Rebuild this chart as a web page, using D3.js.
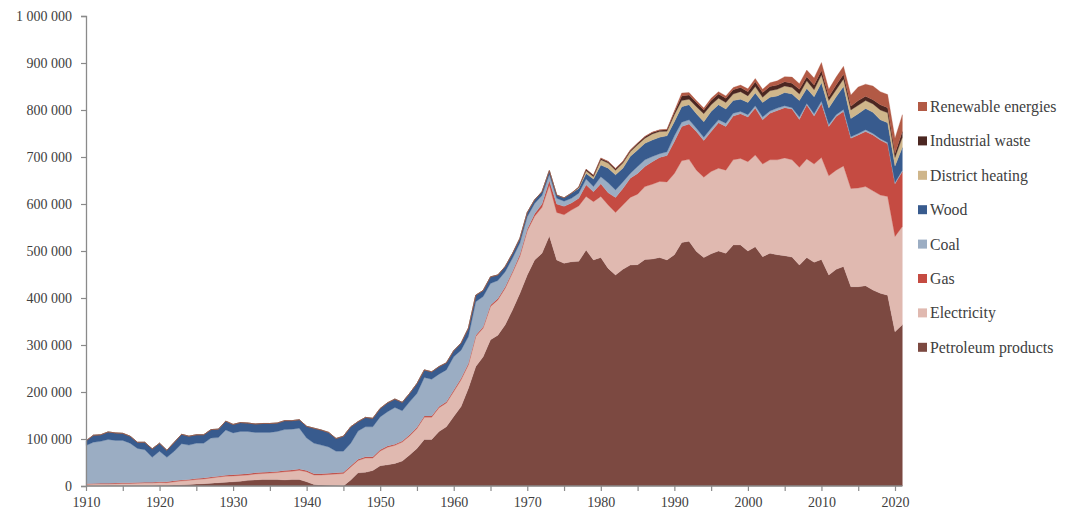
<!DOCTYPE html>
<html>
<head>
<meta charset="utf-8">
<script src="https://cdn.jsdelivr.net/npm/d3@7"></script>
<style>
  body { margin: 0; background: #fff; }
  svg text { font-family: "Liberation Serif", "DejaVu Serif", serif; fill: #404040; }
</style>
</head>
<body>
<svg id="chart" width="1072" height="512"></svg>
<script>
// years on the x axis
var years = d3.range(1910, 2022);

// values in thousands, one per year 1910 .. 2021
var petroleum = [
  0.5, 0.5, 0.5, 1, 1, 1, 1, 1, 1, 1,
  1.5, 1.5, 2, 2.5, 3, 4, 5, 6, 7, 8,
  9, 10, 12, 13, 14, 14, 14, 13, 14, 14,
  9, 3, 2, 1.5, 1, 0, 13, 28, 29, 33,
  43, 45, 48, 53, 66, 80, 99, 99, 116, 126,
  148, 169, 208, 254, 275, 311, 321, 343, 375, 410,
  449, 481, 495, 532, 481, 474, 477, 478, 502, 481,
  486, 463, 449, 461, 470, 471, 482, 483, 486, 481,
  492, 518, 521, 499, 486, 494, 500, 495, 513, 513,
  500, 509, 488, 495, 492, 490, 487, 470, 486, 476,
  482, 449, 461, 467, 424, 424, 426, 417, 410, 406,
  328, 343
];
var electricity = [
  3, 3.5, 4, 3.5, 4, 4.5, 4.5, 5, 5.5, 5.5,
  6, 5.5, 7, 8.5, 9, 10, 10, 11, 12, 13,
  12.5, 12.5, 11.5, 12.5, 12.5, 13.5, 14.5, 17.5, 17.5, 19.5,
  21.5, 20.5, 21.5, 23, 24.5, 26.5, 27.5, 26.5, 30.5, 26.5,
  31.5, 37.5, 38.5, 40.5, 40.5, 42.5, 47.5, 47.5, 50.5, 50.5,
  53, 57, 50, 64, 61, 71, 75, 78, 79, 79,
  94, 93, 98, 108, 101, 103, 110, 118, 114, 124,
  130, 135, 133, 137, 144, 150, 155, 159, 162, 166,
  173, 174, 174, 173, 171, 175, 176, 177, 181, 184,
  190, 195, 197, 199, 202, 208, 207, 208, 210, 209,
  217, 211, 211, 214, 209, 210, 211, 211, 209, 210,
  203, 209
];
var gas = [
  1.5, 1.5, 1.5, 1.5, 1.5, 1.5, 1.5, 1.5, 1.5, 1.5,
  1.5, 2, 2, 2, 2, 2, 2, 2, 2, 2,
  2.5, 2.5, 2.5, 2.5, 2.5, 2.5, 2.5, 2.5, 2.5, 2.5,
  2.5, 2.5, 2.5, 2.5, 2.5, 2.5, 2.5, 2.5, 2.5, 2.5,
  2.5, 2.5, 2.5, 2.5, 2.5, 2.5, 2.5, 2.5, 2.5, 2.5,
  3, 3, 3, 3, 3, 3, 3, 3, 3, 4,
  4, 5, 7, 10, 18, 18, 15, 16, 25, 21,
  27, 26, 32, 35, 41, 44, 43, 48, 51, 56,
  68, 73, 75, 82, 78, 85, 97, 93, 93, 95,
  95, 100, 94, 99, 105, 107, 108, 102, 115, 102,
  115, 105, 114, 116, 107, 113, 117, 119, 117, 112,
  112, 117
];
var coal = [
  81, 87.5, 89, 93, 90.5, 90, 84, 72.5, 69, 53,
  65, 52, 63, 77, 73, 75, 74, 83, 82, 96,
  89, 91, 90, 86, 85, 84, 85, 87, 87, 87,
  69, 65, 61, 56, 46, 45, 48, 60, 64, 64,
  70, 73, 78, 64, 70, 72, 82, 78, 69, 68,
  71, 60, 57, 71, 64, 46, 38, 32, 28, 24,
  26, 22, 18, 13, 12, 11, 10, 11, 12, 11,
  15, 21, 16, 14, 10, 15, 14, 11, 8, 8,
  12, 9, 9, 7, 7, 7, 6, 7, 6, 5,
  5, 5, 6, 5, 5, 4, 3, 5, 3, 5,
  5, 4, 4, 4, 3, 3, 4, 3, 3, 3,
  3, 3
];
var wood = [
  10, 15, 14, 16, 16, 15, 15, 13, 16, 18,
  17, 15, 19, 20, 19, 18, 18, 18, 18, 19,
  18, 19, 18, 18, 19, 19, 18, 19, 18, 18,
  25, 32, 32, 31, 27, 32, 35, 20, 20, 18,
  18, 19, 18, 18, 18, 21, 16, 16, 16, 15,
  13, 15, 18, 14, 13, 14, 12, 11, 10, 10,
  9, 8, 8, 8, 7, 7, 11, 10, 12, 16,
  25, 31, 32, 29, 36, 35, 35, 35, 35, 34,
  30, 33, 32, 31, 33, 36, 32, 30, 27, 26,
  26, 27, 31, 29, 26, 28, 29, 35, 32, 36,
  39, 35, 38, 49, 39, 42, 45, 45, 40, 42,
  35, 48
];
var districtHeating = [
  0, 0, 0, 0, 0, 0, 0, 0, 0, 0,
  0, 0, 0, 0, 0, 0, 0, 0, 0, 0,
  0, 0, 0, 0, 0, 0, 0, 0, 0, 0,
  0, 0, 0, 0, 0, 0, 0, 0, 0, 0,
  0, 0, 0, 0, 0, 0, 0, 0, 0, 0,
  0, 0, 0, 0, 0, 0, 0, 0, 0, 0,
  0, 0, 0, 0, 0, 0, 0, 2, 6, 5,
  11, 11, 10, 11, 10, 11, 11, 13, 12, 10,
  15, 13, 12, 15, 17, 14, 14, 14, 14, 16,
  14, 14, 11, 14, 14, 14, 14, 14, 16, 15,
  17, 16, 15, 16, 18, 18, 17, 18, 21, 21,
  18, 22
];
var industrialWaste = [
  0, 0, 0, 0, 0, 0, 0, 0, 0, 0,
  0, 0, 0, 0, 0, 0, 0, 0, 0, 0,
  0, 0, 0, 0, 0, 0, 0, 0, 0, 0,
  0, 0, 0, 0, 0, 0, 0, 0, 0, 0,
  0, 0, 0, 0, 0, 0, 0, 0, 0, 0,
  0, 0, 0, 0, 0, 0, 0, 0, 0, 0,
  0, 0, 0, 0, 0, 0, 0, 1, 3, 3,
  3, 3, 3, 3, 3, 3, 3, 3, 3, 3,
  5, 10, 9, 9, 8, 9, 9, 9, 9, 9,
  9, 10, 10, 9, 9, 9, 9, 10, 9, 10,
  9, 8, 10, 10, 8, 10, 9, 9, 11, 11,
  9, 12
];
var renewable = [
  0, 0, 0, 0, 0, 0, 0, 0, 0, 0,
  0, 0, 0, 0, 0, 0, 0, 0, 0, 0,
  0, 0, 0, 0, 0, 0, 0, 0, 0, 0,
  0, 0, 0, 0, 0, 0, 0, 0, 0, 0,
  0, 0, 0, 0, 0, 0, 0, 0, 0, 0,
  0, 0, 0, 0, 0, 0, 0, 0, 0, 0,
  0, 0, 0, 0, 0, 0, 0, 0, 0, 0,
  1, 1, 1, 1, 1, 1, 1, 1, 1, 1,
  3, 6, 5, 4, 4, 5, 5, 5, 5, 5,
  6, 7, 7, 8, 9, 11, 13, 12, 14, 15,
  17, 16, 17, 17, 24, 29, 26, 29, 28, 28,
  32, 36
];

// series, bottom to top
var seriesNames = ['Petroleum products', 'Electricity', 'Gas', 'Coal', 'Wood',
  'District heating', 'Industrial waste', 'Renewable energies'];
var seriesValues = [petroleum, electricity, gas, coal, wood, districtHeating, industrialWaste, renewable];
var seriesColors = ['#7c4941', '#e0b9b0', '#c54b42', '#9badc3', '#385b8e',
  '#cfb68b', '#4b2721', '#b25a45'];

var yTicks = [0, 100000, 200000, 300000, 400000, 500000, 600000, 700000, 800000, 900000, 1000000];

var svg = d3.select('#chart');

var xScale = d3.scaleLinear().domain([1910, 2020]).range([86, 895]);
var yScale = d3.scaleLinear().domain([0, 1000000]).range([486, 16]);

// build rows for the stack
var rows = years.map(function(yr, i) {
  var row = { year: yr };
  seriesNames.forEach(function(name, j) {
    row[name] = seriesValues[j][i] * 1000;
  });
  return row;
});

var stack = d3.stack().keys(seriesNames);
var layers = stack(rows);

var area = d3.area()
  .x(function(d) { return xScale(d.data.year); })
  .y0(function(d) { return yScale(d[0]); })
  .y1(function(d) { return yScale(d[1]); });

svg.append('g')
  .selectAll('path')
  .data(layers)
  .enter()
  .append('path')
  .attr('d', area)
  .attr('fill', function(d, i) { return seriesColors[i]; })
  .attr('stroke', function(d, i) { return seriesColors[i]; })
  .attr('stroke-width', 0.3);

// y axis
var fmt = function(v) { return d3.format(',')(v).replace(/,/g, ' '); };
var yAxis = d3.axisLeft(yScale).tickValues(yTicks).tickSize(5).tickPadding(9).tickFormat(fmt);
var yG = svg.append('g')
  .attr('transform', 'translate(86,0)')
  .call(yAxis);

// x axis, ticks every 5 years, labels every 10
var xTicks = d3.range(1910, 2021, 5);
var xAxis = d3.axisBottom(xScale).tickValues(xTicks).tickSize(5).tickPadding(6)
  .tickFormat(function(d) { return d % 10 === 0 ? d : ''; });
var xG = svg.append('g')
  .attr('transform', 'translate(0,486)')
  .call(xAxis);

xG.select('.domain').attr('d', 'M86,0H' + xScale(2021));

[yG, xG].forEach(function(g) {
  g.selectAll('.domain').attr('stroke', '#8a8a8a').attr('stroke-width', 1.3);
  g.selectAll('.tick line').attr('stroke', '#8a8a8a').attr('stroke-width', 1.2);
  g.selectAll('.tick text')
    .style('font-family', '"Liberation Serif", serif')
    .style('font-size', '14px')
    .attr('fill', '#404040');
});

// legend, top entry is the top layer
var legendItems = seriesNames.slice().reverse();
var legendColors = seriesColors.slice().reverse();

var legend = svg.append('g').attr('transform', 'translate(918,0)');

legend.selectAll('rect')
  .data(legendItems)
  .enter()
  .append('rect')
  .attr('x', 0)
  .attr('y', function(d, i) { return 102 + i * 34.4; })
  .attr('width', 9)
  .attr('height', 9)
  .attr('fill', function(d, i) { return legendColors[i]; });

legend.selectAll('text')
  .data(legendItems)
  .enter()
  .append('text')
  .attr('x', 12)
  .attr('y', function(d, i) { return 106.5 + i * 34.4; })
  .attr('dominant-baseline', 'central')
  .style('font-size', '15.8px')
  .text(function(d) { return d; });
</script>
</body>
</html>
